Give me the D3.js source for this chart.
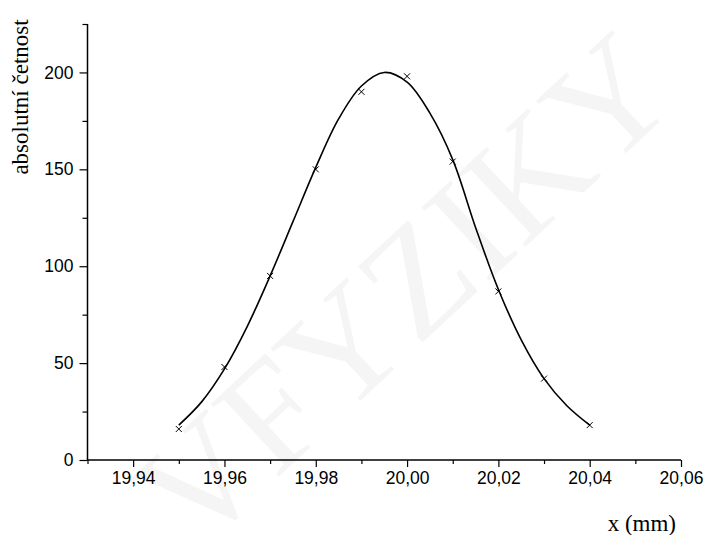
<!DOCTYPE html>
<html>
<head>
    <meta charset="utf-8">
    <title>absolutní četnost</title>
    <script src="https://d3js.org/d3.v7.min.js"></script>
</head>
<style>
    body {
        margin: 0;
        overflow: hidden;
        background: white;
    }
    svg text {
        user-select: none;
    }
</style>
<body>
    <svg></svg>
    <script>
        // measured points
        const xMeasured = [19.95, 19.96, 19.97, 19.98, 19.99, 20.00, 20.01, 20.02, 20.03, 20.04];
        const yMeasured = [16, 48, 95, 150, 190, 198, 154, 87, 42, 18];

        // fitted curve
        const xCurve = [19.950, 19.955, 19.960, 19.965, 19.970, 19.975, 19.980, 19.985, 19.990, 19.995,
            20.000, 20.005, 20.010, 20.015, 20.020, 20.025, 20.030, 20.035, 20.040];
        const yCurve = [18, 30, 47, 69, 95, 123, 151, 176, 193, 200,
            195, 179, 155, 120, 88, 62, 42, 28, 18];

        const xMajorTicks = [19.94, 19.96, 19.98, 20.00, 20.02, 20.04, 20.06];
        const xMinorTicks = [19.93, 19.95, 19.97, 19.99, 20.01, 20.03, 20.05];
        const yMajorTicks = [0, 50, 100, 150, 200];
        const yMinorTicks = [25, 75, 125, 175, 225];

        const xTitle = "x (mm)";
        const yTitle = "absolutní četnost";
        const watermark = "VFYZIKY";

        const width = 707, height = 535;
        const svg = d3.select("svg").attr("width", width).attr("height", height);

        const x = d3.scaleLinear().domain([19.93, 20.06]).range([87.5, 681]);
        const y = d3.scaleLinear().domain([0, 225]).range([460, 24]);

        // faint watermark
        svg.append("text")
            .attr("transform", "translate(415,302) rotate(-43)")
            .attr("text-anchor", "middle")
            .attr("dominant-baseline", "middle")
            .style("font-family", "'Liberation Serif', 'Times New Roman', serif")
            .style("font-size", "152px")
            .attr("fill", "#f5f5f5")
            .text(watermark);

        const fmt = d => d3.format(".2f")(d).replace(".", ",");

        // x axis
        const gx = svg.append("g").attr("transform", `translate(0,${y(0)})`);
        gx.call(d3.axisBottom(x).tickValues(xMajorTicks).tickSize(7).tickPadding(5).tickFormat(fmt));
        gx.append("g").call(d3.axisBottom(x).tickValues(xMinorTicks).tickSize(4).tickFormat(""))
            .select(".domain").remove();

        // y axis
        const gy = svg.append("g").attr("transform", `translate(${x(19.93)},0)`);
        gy.call(d3.axisLeft(y).tickValues(yMajorTicks).tickSize(8).tickPadding(6));
        gy.append("g").call(d3.axisLeft(y).tickValues(yMinorTicks).tickSize(5).tickFormat(""))
            .select(".domain").remove();

        gx.select(".domain").attr("d", `M${x(19.93)},0H${x(20.06)}`).attr("stroke-width", 1.5);
        gy.select(".domain").attr("d", `M0,${y(0)}V${y(225)}`).attr("stroke-width", 1.5);
        svg.selectAll(".tick line").attr("stroke-width", 1.2);
        svg.selectAll(".tick text")
            .style("font-family", "'Liberation Sans', Arial, sans-serif")
            .style("font-size", "17.5px")
            .attr("fill", "#000");

        // curve
        const curveData = xCurve.map((d, i) => [d, yCurve[i]]);
        svg.append("path")
            .datum(curveData)
            .attr("fill", "none")
            .attr("stroke", "#000")
            .attr("stroke-width", 1.6)
            .attr("d", d3.line().x(d => x(d[0])).y(d => y(d[1])).curve(d3.curveCatmullRom.alpha(0.5)));

        // markers
        const s = 3;
        svg.append("g")
            .selectAll("path")
            .data(xMeasured.map((d, i) => [d, yMeasured[i]]))
            .enter().append("path")
            .attr("d", d => {
                const px = x(d[0]), py = y(d[1]);
                return `M${px - s},${py - s}L${px + s},${py + s}M${px - s},${py + s}L${px + s},${py - s}`;
            })
            .attr("stroke", "#000")
            .attr("stroke-width", 1);

        // titles
        svg.append("text")
            .attr("transform", "translate(28,97) rotate(-90)")
            .attr("text-anchor", "middle")
            .style("font-family", "'Liberation Serif', 'Times New Roman', serif")
            .style("font-size", "23px")
            .text(yTitle);

        svg.append("text")
            .attr("x", 676)
            .attr("y", 531)
            .attr("text-anchor", "end")
            .style("font-family", "'Liberation Serif', 'Times New Roman', serif")
            .style("font-size", "23px")
            .text(xTitle);
    </script>
</body>
</html>
